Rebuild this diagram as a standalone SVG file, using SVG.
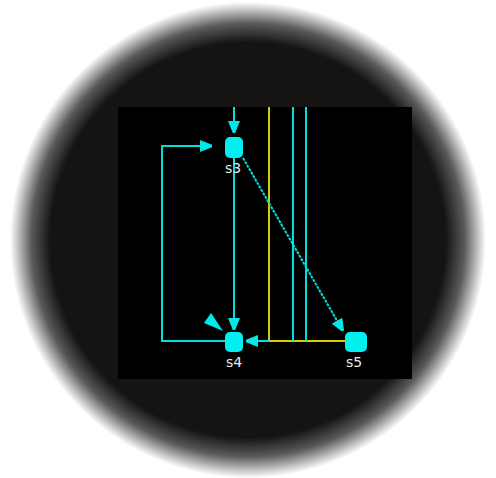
<svg xmlns="http://www.w3.org/2000/svg" width="496" height="478" viewBox="0 0 496 478">
<defs>
<radialGradient id="halo" cx="248" cy="240" r="238" gradientUnits="userSpaceOnUse">
<stop offset="0" stop-color="#151413"/>
<stop offset="0.83" stop-color="#151413"/>
<stop offset="0.91" stop-color="#5a5a5a"/>
<stop offset="1" stop-color="#ffffff"/>
</radialGradient>
<marker id="ah" viewBox="0 0 10 10" refX="10" refY="5" markerWidth="12" markerHeight="12" markerUnits="userSpaceOnUse" orient="auto">
<path d="M0,0 L10,4 L10,6 L0,10 Z" fill="#00e8e8"/>
</marker>
<style>
.c{stroke:#00e0e0;stroke-width:2;fill:none}
.y{stroke:#d8cc00;stroke-width:2;fill:none}
.n{fill:#00f0f0}
.t{font-family:"DejaVu Sans",sans-serif;font-size:14px;fill:#e8e8e8;text-anchor:middle}
</style>
</defs>
<rect width="496" height="478" fill="#ffffff"/>
<circle cx="248" cy="240" r="238" fill="url(#halo)"/>
<rect x="118" y="107" width="294" height="272" fill="#000000"/>
<g id="connectors">
<line class="y" x1="269" y1="107" x2="269" y2="341"/>
<line class="y" x1="269" y1="341" x2="346" y2="341"/>
<line class="c" x1="293" y1="107" x2="293" y2="341"/>
<line class="c" x1="306" y1="107" x2="306" y2="341"/>
<line class="c" x1="234" y1="107" x2="234" y2="133" marker-end="url(#ah)"/>
<polyline class="c" points="234,341 162,341 162,146 212,146" marker-end="url(#ah)"/>
<line class="c" x1="234" y1="158" x2="234" y2="330" marker-end="url(#ah)"/>
<line class="c" x1="269" y1="341" x2="246" y2="341" marker-end="url(#ah)"/>
<line class="c" x1="243" y1="158" x2="343" y2="331" stroke-width="1.6" stroke-dasharray="3,1" marker-end="url(#ah)"/>
<path d="M204,323 L211,313 L223,331 Z" fill="#00e8e8"/>
</g>
<g id="s3">
<rect class="n" x="225" y="137" width="18" height="21" rx="5"/>
<text class="t" x="233" y="173">s3</text>
</g>
<g id="s4">
<rect class="n" x="225" y="332" width="18" height="20" rx="5"/>
<text class="t" x="234" y="367">s4</text>
</g>
<g id="s5">
<rect class="n" x="345" y="332" width="22" height="20" rx="5"/>
<text class="t" x="354" y="367">s5</text>
</g>
</svg>
